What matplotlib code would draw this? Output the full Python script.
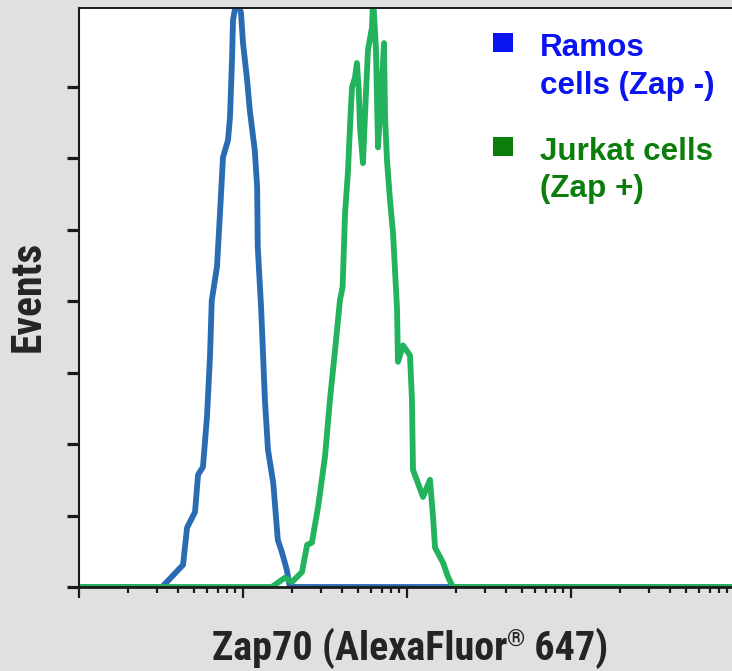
import matplotlib
matplotlib.use("Agg")
import matplotlib.pyplot as plt
from matplotlib.patches import Rectangle
from matplotlib.ticker import LogLocator, NullFormatter, FixedLocator
from matplotlib import font_manager as fm
from matplotlib.font_manager import FontProperties
from matplotlib.textpath import TextPath

# ---- data (fluorescence intensity, events in tick units) ----
ramos_x = [1, 3.21, 4.31, 4.56, 5.10, 5.32, 5.70, 6.03, 6.29, 6.45, 6.94, 7.24, 7.55,
           8.10, 8.33, 8.57, 8.69, 9.19, 9.72, 10.0, 10.6, 11.0, 11.8, 12.2, 12.3,
           12.9, 13.6, 14.2, 15.3, 16.3, 17.3, 18.5, 19.3, 10000]
ramos_y = [0, 0, 0.31, 0.83, 1.05, 1.57, 1.68, 2.38, 3.22, 4.01, 4.48, 5.23, 6.01,
           6.25, 6.57, 7.37, 7.93, 8.25, 8.03, 7.61, 7.09, 6.67, 6.11, 5.59, 4.76,
           3.90, 2.62, 1.92, 1.45, 0.66, 0.48, 0.24, 0, 0]

jurkat_x = [1, 15.0, 18.0, 19.9, 22.9, 24.6, 26.3, 28.7, 31.6, 33.9, 36.4, 39.0, 40.5,
            41.9, 43.6, 44.9, 46.2, 48.2, 49.5, 50.8, 51.7, 53.9, 56.2, 57.8, 61.2,
            62.1, 64.7, 66.6, 70.4, 72.4, 73.5, 75.5, 78.8, 82.2, 86.9, 88.1, 94.6,
            104.3, 107.2, 108.8, 125.2, 138.1, 144.1, 148.3, 165.9, 177.9, 190.6, 10000]
jurkat_y = [0, 0, 0.13, 0.07, 0.21, 0.59, 0.62, 1.12, 1.82, 2.62, 3.31, 4.01, 4.20,
            5.23, 5.79, 6.43, 6.99, 7.13, 7.33, 6.95, 6.43, 5.93, 6.91, 7.51, 7.83,
            8.25, 7.51, 6.15, 7.09, 7.61, 6.57, 5.97, 5.41, 4.95, 3.90, 3.15, 3.38,
            3.24, 2.62, 1.64, 1.26, 1.50, 0.98, 0.55, 0.34, 0.14, 0, 0]

legend_labels = [["Ramos", "cells (Zap -)"], ["Jurkat cells", "(Zap +)"]]
legend_colors = ["#0a14f0", "#0a7d0a"]
line_colors = ["#2a6cb4", "#22b35c"]

W, H = 732, 671
fig = plt.figure(figsize=(W / 100, H / 100), dpi=100, facecolor="#e0e0e0")

def fx(px):
    return px / W

def fy(py):
    return 1 - py / H

ax = fig.add_axes([fx(79), fy(587), fx(732) - fx(79), fy(8) - fy(587)])
ax.set_facecolor("white")
ax.set_xscale("log")
ax.set_xlim(1, 10 ** ((732 - 79) / 164))
ax.set_ylim(0, 8.1)

ax.plot(ramos_x, ramos_y, color=line_colors[0], lw=4.2, solid_joinstyle="round")
ax.plot(jurkat_x, jurkat_y, color=line_colors[1], lw=4.2, solid_joinstyle="round")

ax.spines["right"].set_visible(False)
ax.spines["top"].set_linewidth(1.4)
ax.spines["left"].set_linewidth(1.5)
ax.spines["bottom"].set_linewidth(2.0)
for s in ax.spines.values():
    s.set_color("#1a1a1a")

ax.yaxis.set_major_locator(FixedLocator([0, 1, 2, 3, 4, 5, 6, 7]))
ax.yaxis.set_major_formatter(NullFormatter())
ax.tick_params(axis="y", which="major", direction="out", length=8.5, width=2.3,
               color="#1a1a1a")
ax.xaxis.set_major_locator(LogLocator(base=10, numticks=10))
ax.xaxis.set_minor_locator(LogLocator(base=10, subs=range(2, 10), numticks=50))
ax.xaxis.set_major_formatter(NullFormatter())
ax.xaxis.set_minor_formatter(NullFormatter())
ax.tick_params(axis="x", which="major", direction="out", length=8, width=1.6,
               color="#1a1a1a")
ax.tick_params(axis="x", which="minor", direction="out", length=4, width=1.6,
               color="#1a1a1a")

# ---- pick a condensed bold font if any is installed ----
def pick_condensed():
    best = None
    best_score = -1e9
    for f in fm.fontManager.ttflist:
        nm = f.name.lower()
        fn = f.fname.lower()
        cond = ("narrow" in nm or "condensed" in nm or "narrow" in fn or
                "condensed" in fn or "cond" in fn or
                str(f.stretch) in ("condensed", "semi-condensed", "extra-condensed"))
        if not cond:
            continue
        if "italic" in fn or "oblique" in fn or f.style != "normal":
            continue
        w = f.weight if isinstance(f.weight, int) else fm.weight_dict.get(f.weight, 400)
        score = -abs(700 - w) / 10
        if "roboto" in nm:
            score += 40
        elif "liberation" in nm:
            score += 35
        elif "open sans" in nm:
            score += 30
        elif "dejavu" in nm:
            score += 0
        else:
            score += 20
        if score > best_score:
            best, best_score = f, score
    return best

cf = pick_condensed()
if cf is not None:
    def fp(size):
        return FontProperties(fname=cf.fname, size=size)
else:
    def fp(size):
        return FontProperties(family="Liberation Sans", weight="bold", size=size)

txt_color = "#262324"
fig.canvas.draw()
r = fig.canvas.get_renderer()

# size so that a capital letter is about 28.5 px tall
def cap_px(size):
    tp = TextPath((0, 0), "Z", prop=fp(size))
    return tp.get_extents().height * 100 / 72

fs = 28 * 28.5 / cap_px(28)
fs_ev = 28 * 29.5 / cap_px(28)

ev = fig.text(fx(28), fy(296), "Events", rotation=90, ha="center", va="center",
              fontproperties=fp(fs_ev), color=txt_color)

parts = [("Zap70 (AlexaFluor", fs, 0), ("\u00ae", fs * 0.58, 13), (" 647)", fs, 0)]
objs = []
total = 0
for t, size, dy in parts:
    o = fig.text(0, 0, t, fontproperties=fp(size), color=txt_color,
                 va="baseline", ha="left")
    bb = o.get_window_extent(renderer=r)
    objs.append((o, bb.width, dy))
    total += bb.width
x0 = 410 - total / 2
for o, w, dy in objs:
    o.set_position((fx(x0), fy(660 - dy)))
    x0 += w

# legend
bases = [[56, 94], [160, 197]]
sq_top = [33, 137]
for i in range(2):
    fig.patches.append(Rectangle((fx(493), fy(sq_top[i] + 19)), fx(20), 19 / H,
                                 transform=fig.transFigure, facecolor=legend_colors[i],
                                 edgecolor="none"))
    for j, line in enumerate(legend_labels[i]):
        fig.text(fx(540), fy(bases[i][j]), line, fontsize=22.6, fontweight="bold",
                 family="Liberation Sans", color=legend_colors[i], va="baseline",
                 ha="left")

fig.savefig("out.png", dpi=100, facecolor=fig.get_facecolor())
